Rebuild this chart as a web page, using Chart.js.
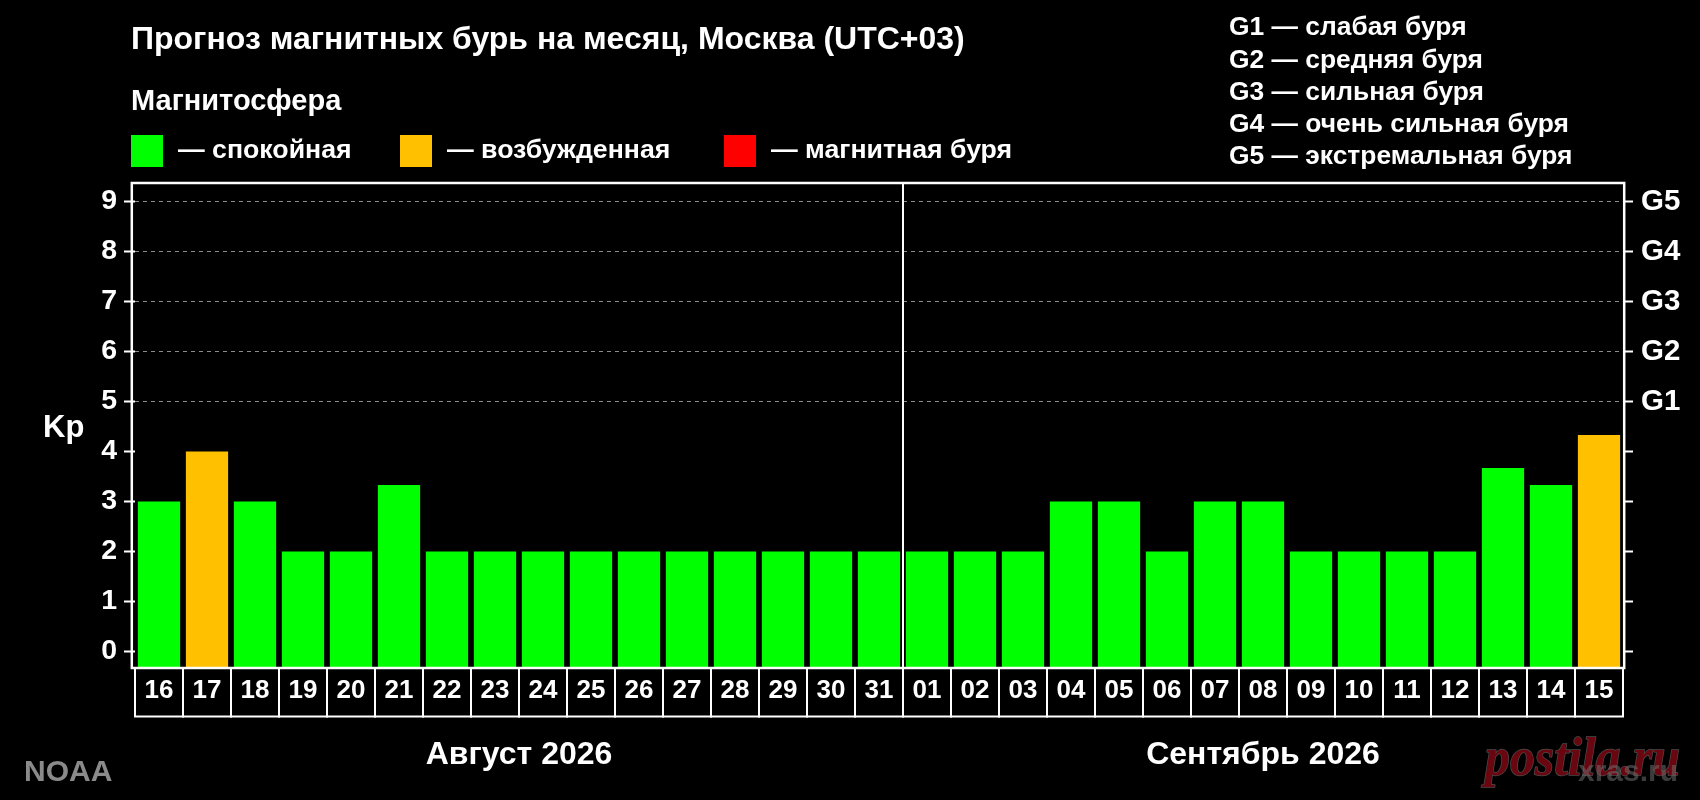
<!DOCTYPE html>
<html><head><meta charset="utf-8">
<script src="https://cdn.jsdelivr.net/npm/chart.js@4.4.0/dist/chart.umd.min.js"></script>
<style>html,body{margin:0;padding:0;background:#000;}canvas{display:block;}</style>
</head><body>
<canvas id="c" width="1700" height="800"></canvas>
<script>
// ---- data ----
const TITLE = 'Прогноз магнитных бурь на месяц, Москва (UTC+03)';
const LEGEND_TITLE = 'Магнитосфера';
const LEGEND_LABELS = ['— спокойная', '— возбужденная', '— магнитная буря'];
const LEGEND_COLORS = ['#00ff00', '#ffc000', '#ff0000'];
const DAYS = ['16','17','18','19','20','21','22','23','24','25','26','27','28','29','30','31',
              '01','02','03','04','05','06','07','08','09','10','11','12','13','14','15'];
const KP = [3, 4, 3, 2, 2, 3.33, 2, 2, 2, 2, 2, 2, 2, 2, 2, 2,
            2, 2, 2, 3, 3, 2, 3, 3, 2, 2, 2, 2, 3.67, 3.33, 4.33];
const MONTHS = ['Август 2026', 'Сентябрь 2026'];
const MONTH_DAYS = [16, 15];
const KP_TICKS = [0, 1, 2, 3, 4, 5, 6, 7, 8, 9];
const G_LEVELS = [5, 6, 7, 8, 9];
const G_NAMES = ['G1', 'G2', 'G3', 'G4', 'G5'];
const G_DESCRIPTIONS = ['слабая буря', 'средняя буря', 'сильная буря', 'очень сильная буря', 'экстремальная буря'];
const Y_LABEL = 'Kp';
const SOURCE = 'NOAA';
const WATERMARKS = ['postila.ru', 'xras.ru'];

// ---- styling ----
const FONT = '"Liberation Sans", Arial, sans-serif';
const Y_MIN = -0.33, Y_MAX = 9.37;
function kpColor(v) { return v >= 5 ? LEGEND_COLORS[2] : (v >= 4 ? LEGEND_COLORS[1] : LEGEND_COLORS[0]); }
function f(size) { return 'bold ' + size + 'px ' + FONT; }

const bg = { id: 'bg', beforeDraw(ch) { const c = ch.ctx; c.save(); c.fillStyle = '#000'; c.fillRect(0, 0, ch.width, ch.height); c.restore(); } };

const decor = {
  id: 'decor',
  afterDraw(ch) {
    const c = ch.ctx, a = ch.chartArea, xs = ch.scales.x;
    const pitch = xs.getPixelForValue(1) - xs.getPixelForValue(0);
    const cellH = 48.5;
    c.save();
    c.strokeStyle = '#fff';
    // plot frame
    c.lineWidth = 2.5;
    c.strokeRect(a.left - 3.2, a.top, (a.right + 1.2) - (a.left - 3.2), a.bottom - a.top);
    // day cells
    c.lineWidth = 2;
    for (let i = 0; i < DAYS.length; i++) {
      const cx = xs.getPixelForValue(i);
      c.strokeRect(cx - pitch / 2, a.bottom, pitch, cellH);
    }
    // month divider + month labels
    let start = 0;
    c.fillStyle = '#fff';
    c.textAlign = 'center'; c.textBaseline = 'middle';
    c.font = f(32);
    MONTHS.forEach((m, k) => {
      const end = start + MONTH_DAYS[k];
      const x0 = xs.getPixelForValue(start) - pitch / 2;
      const x1 = xs.getPixelForValue(end - 1) + pitch / 2;
      c.fillText(m, (x0 + x1) / 2, 755);
      if (k > 0) {
        c.beginPath(); c.moveTo(x0, a.top); c.lineTo(x0, a.bottom + cellH); c.stroke();
      }
      start = end;
    });
    // title
    c.textAlign = 'left';
    c.font = f(32);
    c.fillText(TITLE, 131, 40);
    // legend
    c.font = f(29);
    c.fillText(LEGEND_TITLE, 131, 102);
    c.font = f(26.7);
    const lx = [131, 400, 724];
    LEGEND_LABELS.forEach((t, i) => {
      c.fillStyle = LEGEND_COLORS[i];
      c.fillRect(lx[i], 135, 32, 32);
      c.fillStyle = '#fff';
      c.fillText(t, lx[i] + 47, 151);
    });
    // G legend
    c.font = f(26.4);
    G_NAMES.forEach((g, i) => {
      c.fillText(g + ' — ' + G_DESCRIPTIONS[i], 1229, 28 + i * 32.3);
    });
    // Kp label
    c.font = f(31);
    c.fillText(Y_LABEL, 43, 428);
    // source
    c.fillStyle = '#8a8a8a';
    c.font = f(30);
    c.fillText(SOURCE, 24, 773);
    // watermarks
    c.textBaseline = 'alphabetic';
    c.font = 'bold italic 54px "Liberation Serif", serif';
    const w = c.measureText(WATERMARKS[0]).width;
    c.save();
    c.translate(1485, 775);
    c.scale(195 / w, 1);
    c.lineWidth = 1.5;
    c.strokeStyle = 'rgba(150,150,150,0.5)';
    c.strokeText(WATERMARKS[0], 0, 0);
    c.fillStyle = '#6a0610';
    c.fillText(WATERMARKS[0], 0, 0);
    c.restore();
    c.fillStyle = 'rgba(110,110,110,0.55)';
    c.font = 'bold 30px ' + FONT;
    c.fillText(WATERMARKS[1], 1578, 781);
    c.restore();
  }
};

new Chart(document.getElementById('c'), {
  type: 'bar',
  data: {
    labels: DAYS,
    datasets: [{
      data: KP,
      base: Y_MIN,
      backgroundColor: ctx => kpColor(ctx.raw),
      borderWidth: 0,
      categoryPercentage: 1,
      barPercentage: 0.88,
      yAxisID: 'y'
    }]
  },
  options: {
    responsive: false,
    animation: false,
    devicePixelRatio: 1,
    layout: { padding: { top: 183, left: 0, right: 0, bottom: 0 } },
    plugins: { legend: { display: false }, tooltip: { enabled: false }, title: { display: false } },
    scales: {
      x: {
        type: 'category',
        offset: true,
        grid: { display: false, drawTicks: false },
        border: { display: false },
        ticks: { color: '#fff', font: { family: FONT, size: 26, weight: 'bold' }, padding: 7, maxRotation: 0, autoSkip: false },
        afterFit: s => { s.height = 132; }
      },
      y: {
        position: 'left',
        min: Y_MIN, max: Y_MAX,
        afterBuildTicks: s => { s.ticks = KP_TICKS.map(v => ({ value: v })); },
        grid: {
          color: ctx => (ctx.tick && ctx.tick.value >= 5) ? '#8c8c8c' : 'rgba(0,0,0,0)',
          lineWidth: 1, tickColor: '#fff', tickWidth: 2, tickLength: 11, drawTicks: true
        },
        border: { display: false, dash: [4, 4] },
        ticks: { color: '#fff', font: { family: FONT, size: 28.5, weight: 'bold' }, padding: 7 },
        afterFit: s => { s.width = 135; }
      },
      y2: {
        position: 'right',
        min: Y_MIN, max: Y_MAX,
        afterBuildTicks: s => { s.ticks = KP_TICKS.map(v => ({ value: v })); },
        grid: { drawOnChartArea: false, tickColor: '#fff', tickWidth: 2, tickLength: 10, drawTicks: true },
        border: { display: false },
        ticks: {
          color: '#fff', font: { family: FONT, size: 29.5, weight: 'bold' }, padding: 8,
          callback: v => { const i = G_LEVELS.indexOf(v); return i >= 0 ? G_NAMES[i] : ''; }
        },
        afterFit: s => { s.width = 77; }
      }
    }
  },
  plugins: [bg, decor]
});
</script>
</body></html>
